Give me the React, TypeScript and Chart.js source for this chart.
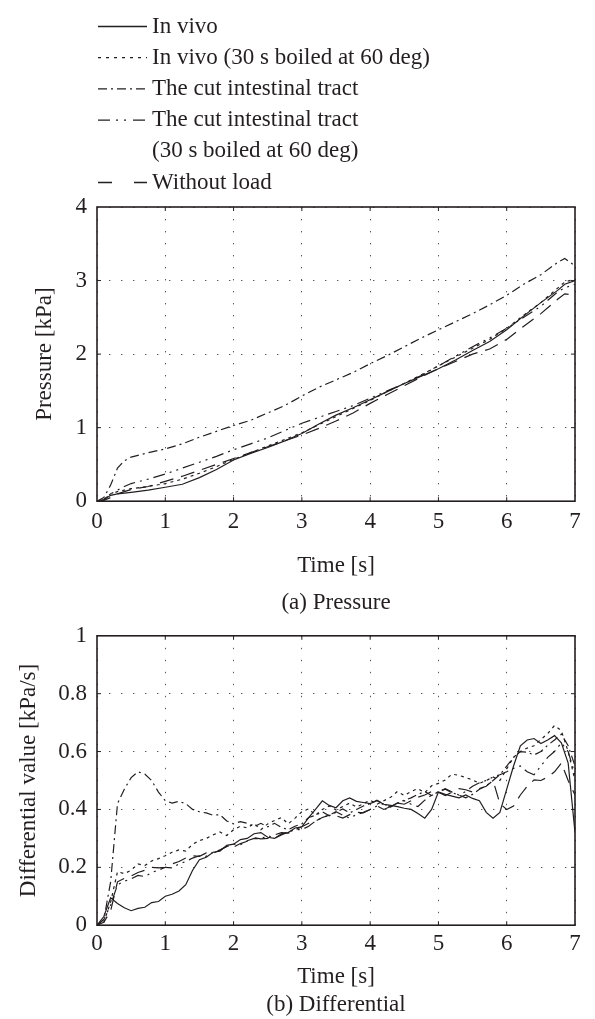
import React, { useEffect, useRef } from 'react';
import { Chart, registerables } from 'chart.js';

Chart.register(...registerables);

// ---------- data ----------
const SERIES_LABEL_LINES: string[][] = [
  ['In vivo'],
  ['In vivo (30 s boiled at 60 deg)'],
  ['The cut intestinal tract'],
  ['The cut intestinal tract', '(30 s boiled at 60 deg)'],
  ['Without load'],
];

const TIME_TICKS = [0, 1, 2, 3, 4, 5, 6, 7];
const PRESSURE_TICKS = [0, 1, 2, 3, 4];
const DIFF_TICKS = [0, 0.2, 0.4, 0.6, 0.8, 1];

const PRESSURE_TIME = [0, 0.1, 0.2, 0.3, 0.4, 0.5, 0.75, 1, 1.25, 1.5, 1.75, 2, 2.25, 2.5, 2.75, 3, 3.25, 3.5, 3.75, 4, 4.25, 4.5, 4.75, 5, 5.25, 5.5, 5.75, 6, 6.25, 6.5, 6.75, 6.85, 7];
const P_IN_VIVO = [0, 0.02, 0.08, 0.1, 0.11, 0.12, 0.15, 0.19, 0.23, 0.32, 0.43, 0.56, 0.65, 0.73, 0.82, 0.92, 1.05, 1.17, 1.27, 1.38, 1.49, 1.6, 1.7, 1.8, 1.92, 2.05, 2.17, 2.33, 2.52, 2.7, 2.87, 2.95, 3.0];
const P_IN_VIVO_BOILED = [0, 0.02, 0.1, 0.13, 0.15, 0.17, 0.2, 0.24, 0.3, 0.38, 0.47, 0.57, 0.66, 0.75, 0.84, 0.93, 1.04, 1.15, 1.26, 1.37, 1.49, 1.6, 1.72, 1.84, 1.96, 2.08, 2.2, 2.35, 2.53, 2.7, 2.9, 2.98, 3.02];
const P_CUT = [0, 0.05, 0.22, 0.45, 0.55, 0.6, 0.66, 0.71, 0.78, 0.87, 0.95, 1.03, 1.1, 1.2, 1.3, 1.43, 1.55, 1.65, 1.75, 1.87, 1.98, 2.1, 2.22, 2.33, 2.44, 2.55, 2.67, 2.8, 2.95, 3.08, 3.25, 3.3, 3.2];
const P_CUT_BOILED = [0, 0.02, 0.1, 0.15, 0.2, 0.24, 0.3, 0.37, 0.45, 0.53, 0.61, 0.7, 0.78, 0.86, 0.96, 1.06, 1.14, 1.22, 1.3, 1.4, 1.5, 1.6, 1.71, 1.84, 1.97, 2.1, 2.22, 2.35, 2.5, 2.65, 2.85, 2.9, 2.95];
const P_NO_LOAD = [0, 0.01, 0.05, 0.1, 0.13, 0.16, 0.2, 0.27, 0.34, 0.42, 0.5, 0.58, 0.66, 0.74, 0.82, 0.9, 0.99, 1.09, 1.2, 1.33, 1.45, 1.57, 1.69, 1.8, 1.9, 2.0, 2.07, 2.2, 2.38, 2.55, 2.75, 2.82, 2.8];

const DIFF_TIME = [0, 0.1, 0.2, 0.3, 0.4, 0.5, 0.6, 0.7, 0.8, 0.9, 1, 1.1, 1.2, 1.3, 1.4, 1.5, 1.6, 1.7, 1.8, 1.9, 2, 2.1, 2.2, 2.3, 2.4, 2.5, 2.6, 2.7, 2.8, 2.9, 3, 3.1, 3.2, 3.3, 3.4, 3.5, 3.6, 3.7, 3.8, 3.9, 4, 4.1, 4.2, 4.3, 4.4, 4.5, 4.6, 4.7, 4.8, 4.9, 5, 5.1, 5.2, 5.3, 5.4, 5.5, 5.6, 5.7, 5.8, 5.9, 6, 6.1, 6.2, 6.3, 6.4, 6.5, 6.6, 6.7, 6.8, 6.9, 7];
const D_IN_VIVO = [0, 0.03, 0.095, 0.075, 0.06, 0.05, 0.058, 0.062, 0.078, 0.082, 0.1, 0.107, 0.118, 0.14, 0.19, 0.226, 0.235, 0.252, 0.256, 0.276, 0.28, 0.296, 0.3, 0.316, 0.32, 0.304, 0.3, 0.316, 0.32, 0.336, 0.34, 0.372, 0.4, 0.43, 0.414, 0.406, 0.43, 0.44, 0.428, 0.424, 0.42, 0.43, 0.418, 0.414, 0.41, 0.404, 0.4, 0.386, 0.37, 0.4, 0.46, 0.452, 0.446, 0.44, 0.45, 0.438, 0.43, 0.39, 0.37, 0.39, 0.47, 0.55, 0.62, 0.64, 0.645, 0.628, 0.64, 0.655, 0.63, 0.56, 0.32];
const D_IN_VIVO_BOILED = [0, 0.01, 0.08, 0.185, 0.178, 0.19, 0.212, 0.206, 0.222, 0.23, 0.24, 0.252, 0.26, 0.256, 0.28, 0.292, 0.3, 0.312, 0.322, 0.31, 0.33, 0.342, 0.336, 0.352, 0.33, 0.35, 0.362, 0.372, 0.35, 0.37, 0.392, 0.402, 0.38, 0.4, 0.412, 0.398, 0.41, 0.422, 0.408, 0.42, 0.432, 0.418, 0.43, 0.442, 0.462, 0.448, 0.462, 0.472, 0.458, 0.482, 0.49, 0.502, 0.522, 0.518, 0.51, 0.502, 0.49, 0.5, 0.512, 0.5, 0.54, 0.58, 0.6, 0.612, 0.62, 0.642, 0.662, 0.69, 0.672, 0.6, 0.5];
const D_CUT = [0, 0.02, 0.15, 0.42, 0.47, 0.51, 0.53, 0.522, 0.5, 0.46, 0.43, 0.422, 0.428, 0.42, 0.4, 0.392, 0.388, 0.38, 0.382, 0.36, 0.35, 0.358, 0.352, 0.34, 0.352, 0.34, 0.352, 0.338, 0.33, 0.342, 0.35, 0.372, 0.38, 0.392, 0.378, 0.39, 0.402, 0.388, 0.4, 0.412, 0.42, 0.432, 0.418, 0.41, 0.422, 0.432, 0.44, 0.452, 0.462, 0.448, 0.462, 0.47, 0.458, 0.45, 0.44, 0.452, 0.47, 0.482, 0.5, 0.52, 0.55, 0.58, 0.6, 0.598, 0.588, 0.6, 0.622, 0.64, 0.66, 0.62, 0.55];
const D_CUT_BOILED = [0, 0.02, 0.07, 0.14, 0.152, 0.16, 0.172, 0.168, 0.182, 0.19, 0.2, 0.198, 0.212, 0.22, 0.232, 0.24, 0.238, 0.252, 0.26, 0.272, 0.28, 0.278, 0.292, 0.3, 0.298, 0.31, 0.3, 0.312, 0.322, 0.33, 0.33, 0.342, 0.36, 0.372, 0.38, 0.392, 0.38, 0.37, 0.382, 0.39, 0.4, 0.412, 0.42, 0.408, 0.422, 0.43, 0.418, 0.41, 0.432, 0.45, 0.46, 0.472, 0.46, 0.45, 0.462, 0.48, 0.492, 0.5, 0.512, 0.52, 0.53, 0.542, 0.55, 0.53, 0.52, 0.55, 0.58, 0.6, 0.63, 0.6, 0.52];
const D_NO_LOAD = [0, 0.01, 0.05, 0.15, 0.162, 0.17, 0.182, 0.19, 0.2, 0.198, 0.2, 0.212, 0.22, 0.232, 0.24, 0.238, 0.25, 0.248, 0.26, 0.272, 0.27, 0.282, 0.29, 0.302, 0.298, 0.3, 0.312, 0.32, 0.318, 0.33, 0.34, 0.352, 0.36, 0.372, 0.38, 0.378, 0.37, 0.382, 0.39, 0.388, 0.4, 0.412, 0.4, 0.41, 0.422, 0.418, 0.43, 0.442, 0.45, 0.462, 0.46, 0.448, 0.46, 0.472, 0.468, 0.46, 0.472, 0.48, 0.5, 0.42, 0.4, 0.412, 0.45, 0.48, 0.502, 0.5, 0.512, 0.53, 0.56, 0.5, 0.45];

const PRESSURE_SERIES = [P_IN_VIVO, P_IN_VIVO_BOILED, P_CUT, P_CUT_BOILED, P_NO_LOAD];
const DIFF_SERIES = [D_IN_VIVO, D_IN_VIVO_BOILED, D_CUT, D_CUT_BOILED, D_NO_LOAD];

// ---------- styles ----------
const FONT = "'Liberation Serif', 'Times New Roman', serif";
const INK = '#231f20';
const FONT_SIZE = 23;
const LINE_DASHES: number[][] = [[], [3, 4], [9, 4, 2, 4], [12, 5, 2, 5, 2, 5], [14, 8]];
const LEGEND_DASHES: number[][] = [[], [3, 5], [9, 4, 2, 4], [12, 6, 2, 6, 2, 7], [14, 22]];

const frame = {
  id: 'frame',
  afterDatasetsDraw(chart: any) {
    const { ctx, chartArea: a, scales } = chart;
    ctx.save();
    ctx.strokeStyle = INK;
    ctx.setLineDash([]);
    ctx.lineWidth = 1;
    const tl = 4;
    const xs = scales.x, ys = scales.y;
    xs.ticks.forEach((t: any) => {
      if (t.value === xs.min || t.value === xs.max) return;
      const p = xs.getPixelForValue(t.value);
      ctx.beginPath();
      ctx.moveTo(p, a.bottom); ctx.lineTo(p, a.bottom - tl);
      ctx.moveTo(p, a.top); ctx.lineTo(p, a.top + tl);
      ctx.stroke();
    });
    ys.ticks.forEach((t: any) => {
      if (t.value === ys.min || t.value === ys.max) return;
      const p = ys.getPixelForValue(t.value);
      ctx.beginPath();
      ctx.moveTo(a.left, p); ctx.lineTo(a.left + tl, p);
      ctx.moveTo(a.right, p); ctx.lineTo(a.right - tl, p);
      ctx.stroke();
    });
    ctx.lineWidth = 1.6;
    ctx.strokeRect(a.left, a.top, a.right - a.left, a.bottom - a.top);
    ctx.restore();
  },
};

const stackedLegend = {
  id: 'stackedLegend',
  afterDraw(chart: any) {
    const ctx = chart.ctx;
    const top = 26.5, step = 31.2, x0 = 98, x1 = 147, tx = 152;
    ctx.save();
    ctx.font = `${FONT_SIZE}px ${FONT}`;
    ctx.fillStyle = INK;
    ctx.textBaseline = 'middle';
    ctx.textAlign = 'left';
    let row = 0;
    chart.data.datasets.forEach((ds: any, i: number) => {
      const y = top + row * step;
      ctx.strokeStyle = ds.borderColor;
      ctx.lineWidth = 1.3;
      ctx.setLineDash(LEGEND_DASHES[i]);
      ctx.beginPath();
      ctx.moveTo(x0, y);
      ctx.lineTo(x1, y);
      ctx.stroke();
      const lines = SERIES_LABEL_LINES[i];
      lines.forEach((txt, k) => ctx.fillText(txt, tx, y + k * step));
      row += lines.length;
    });
    ctx.restore();
  },
};

function datasets(xs: number[], series: number[][]) {
  return series.map((ys, i) => ({
    label: SERIES_LABEL_LINES[i].join(' '),
    data: xs.map((x, k) => ({ x, y: ys[k] })),
    borderColor: INK,
    borderWidth: 1.2,
    borderDash: LINE_DASHES[i],
    pointRadius: 0,
    tension: 0,
    fill: false,
  }));
}

function options(cfg: {
  yMax: number; yTicks: number[]; yTitle: string; yTitleLeft: number;
  xTickPad: number; xTitlePad: { top: number; bottom: number };
  caption: string; captionPad: { top: number; bottom: number };
  padding: { top: number; bottom: number };
}) {
  const font = { family: FONT, size: FONT_SIZE, weight: 'normal' as const };
  const grid = { color: '#555', lineWidth: 1, drawTicks: false, tickLength: 0 };
  const border = { display: false, dash: [1.4, 10.6] };
  return {
    responsive: false,
    animation: false as const,
    layout: { padding: { left: 0, right: 20, top: cfg.padding.top, bottom: cfg.padding.bottom } },
    plugins: {
      legend: { display: false },
      tooltip: { enabled: false },
      title: {
        display: true, text: cfg.caption, position: 'bottom' as const, fullSize: false,
        color: INK, font, padding: cfg.captionPad,
      },
    },
    scales: {
      x: {
        type: 'linear' as const, min: 0, max: 7,
        afterBuildTicks: (s: any) => { s.ticks = TIME_TICKS.map((v) => ({ value: v })); },
        ticks: { color: INK, font, padding: cfg.xTickPad, maxRotation: 0, callback: (v: any) => String(v) },
        grid, border,
        title: { display: true, text: 'Time [s]', color: INK, font, padding: cfg.xTitlePad },
      },
      y: {
        type: 'linear' as const, min: 0, max: cfg.yMax,
        afterBuildTicks: (s: any) => { s.ticks = cfg.yTicks.map((v) => ({ value: v })); },
        afterFit: (s: any) => { s.width = 97; },
        ticks: { color: INK, font, padding: 10, callback: (v: any) => String(v) },
        grid, border,
        title: { display: true, text: cfg.yTitle, color: INK, font, padding: { top: cfg.yTitleLeft, bottom: 0 } },
      },
    },
  };
}

export default function App() {
  const topRef = useRef<HTMLCanvasElement>(null);
  const botRef = useRef<HTMLCanvasElement>(null);

  useEffect(() => {
    const c1 = new Chart(topRef.current!, {
      type: 'line',
      data: { datasets: datasets(PRESSURE_TIME, PRESSURE_SERIES) as any },
      options: options({
        yMax: 4, yTicks: PRESSURE_TICKS, yTitle: 'Pressure [kPa]', yTitleLeft: 31,
        xTickPad: 7, xTitlePad: { top: 9, bottom: 4 },
        caption: '(a) Pressure', captionPad: { top: 6, bottom: 4 },
        padding: { top: 207, bottom: 0 },
      }) as any,
      plugins: [frame, stackedLegend],
    });
    const c2 = new Chart(botRef.current!, {
      type: 'line',
      data: { datasets: datasets(DIFF_TIME, DIFF_SERIES) as any },
      options: options({
        yMax: 1, yTicks: DIFF_TICKS, yTitle: 'Differential value [kPa/s]', yTitleLeft: 15,
        xTickPad: 5, xTitlePad: { top: 0, bottom: 0 },
        caption: '(b) Differential', captionPad: { top: 1, bottom: 0 },
        padding: { top: 15, bottom: 0 },
      }) as any,
      plugins: [frame],
    });
    return () => { c1.destroy(); c2.destroy(); };
  }, []);

  return (
    <div style={{ position: 'absolute', left: 0, top: 0, width: 595, height: 1019, background: '#fff', overflow: 'hidden' }}>
      <canvas ref={topRef} width={595} height={621} style={{ position: 'absolute', left: 0, top: 0 }} />
      <canvas ref={botRef} width={595} height={407} style={{ position: 'absolute', left: 0, top: 612 }} />
    </div>
  );
}
